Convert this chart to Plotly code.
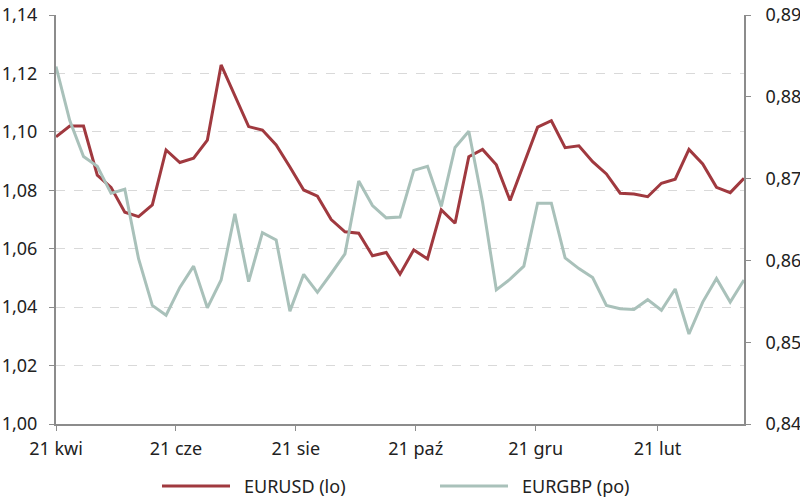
import pandas as pd
import plotly.graph_objects as go

dates = pd.date_range("2023-04-21", periods=51, freq="7D")

eurusd = [1.0983, 1.1020, 1.1020, 1.0852, 1.0810, 1.0725, 1.0710, 1.0750, 1.0938, 1.0895,
          1.0910, 1.0972, 1.1229, 1.1126, 1.1018, 1.1006, 1.0955, 1.0880, 1.0801, 1.0780,
          1.0700, 1.0658, 1.0653, 1.0576, 1.0587, 1.0513, 1.0596, 1.0565, 1.0733, 1.0687,
          1.0915, 1.0940, 1.0887, 1.0765, 1.0890, 1.1016, 1.1038, 1.0946, 1.0952, 1.0898,
          1.0856, 1.0790, 1.0787, 1.0778, 1.0824, 1.0838, 1.0940, 1.0890, 1.0810, 1.0792,
          1.0841]

eurgbp = [0.8837, 0.8771, 0.8727, 0.8715, 0.8682, 0.8687, 0.8602, 0.8545, 0.8533, 0.8567,
          0.8593, 0.8542, 0.8576, 0.8657, 0.8574, 0.8634, 0.8625, 0.8538, 0.8583, 0.8561,
          0.8584, 0.8608, 0.8697, 0.8667, 0.8652, 0.8653, 0.8710, 0.8715, 0.8666, 0.8738,
          0.8758, 0.8671, 0.8564, 0.8577, 0.8593, 0.8670, 0.8670, 0.8603, 0.8590, 0.8579,
          0.8545, 0.8541, 0.8540, 0.8552, 0.8539, 0.8565, 0.8510, 0.8549, 0.8578, 0.8549,
          0.8576]

tick_dates = ["2023-04-21", "2023-06-21", "2023-08-21", "2023-10-21", "2023-12-21", "2024-02-21"]
tick_labels = ["21 kwi", "21 cze", "21 sie", "21 paź", "21 gru", "21 lut"]

left_ticks = [1.00, 1.02, 1.04, 1.06, 1.08, 1.10, 1.12, 1.14]
right_ticks = [0.84, 0.85, 0.86, 0.87, 0.88, 0.89]

names = ["EURUSD (lo)", "EURGBP (po)"]
RED = "#a0393f"
GREEN = "#a9c1ba"
AXIS = "#8c8c8c"
FONT = "Noto Sans"
FS = 18
TXT = "#222222"

fig = go.Figure()
fig.add_trace(go.Scatter(x=dates, y=eurgbp, mode="lines", name=names[1],
                         line=dict(color=GREEN, width=3), yaxis="y2", showlegend=False))
fig.add_trace(go.Scatter(x=dates, y=eurusd, mode="lines", name=names[0],
                         line=dict(color=RED, width=3), showlegend=False))

fig.update_layout(
    width=800, height=499,
    margin=dict(l=56, r=56, t=15, b=75, autoexpand=False),
    plot_bgcolor="white", paper_bgcolor="white",
    font=dict(family=FONT, size=FS, color=TXT),
    xaxis=dict(range=[dates[0], dates[-1]], tickvals=tick_dates, ticktext=tick_labels,
               showgrid=False, showline=True, linecolor=AXIS, linewidth=2,
               ticks="outside", ticklen=5, tickcolor=AXIS, tickwidth=1, zeroline=False,
               automargin=False, ticklabelstandoff=2),
    yaxis=dict(range=[1.00, 1.14], tickvals=left_ticks,
               ticktext=[f"{v:.2f}".replace(".", ",") for v in left_ticks],
               showgrid=True, gridcolor="#d9d9d9", griddash="dash", gridwidth=1,
               showline=True, linecolor=AXIS, linewidth=2,
               ticks="outside", ticklen=5, tickcolor=AXIS, zeroline=False,
               ticklabelstandoff=8, automargin=False),
    yaxis2=dict(range=[0.84, 0.89], tickvals=right_ticks,
                ticktext=[f"{v:.2f}".replace(".", ",") for v in right_ticks],
                overlaying="y", side="right", showgrid=False,
                showline=True, linecolor=AXIS, linewidth=2,
                ticks="outside", ticklen=5, tickcolor=AXIS, zeroline=False,
                ticklabelstandoff=11, automargin=False),
)

# custom legend below the plot
def px2x(px):
    return (px - 56) / 688.0

ly = (424 - 486) / 409.0
items = [(162, 230, 242, RED, names[0]), (440, 508, 520, GREEN, names[1])]
for x0, x1, xt, col, txt in items:
    fig.add_shape(type="line", xref="paper", yref="paper",
                  x0=px2x(x0), x1=px2x(x1), y0=ly, y1=ly,
                  line=dict(color=col, width=3))
    fig.add_annotation(xref="paper", yref="paper", x=px2x(xt), y=ly, text=txt,
                       showarrow=False, xanchor="left", yanchor="middle",
                       font=dict(family=FONT, size=FS, color=TXT))

fig.write_html("out.html", config={"displayModeBar": False},
               post_script="document.body.style.margin='0';document.body.style.overflow='hidden';")
